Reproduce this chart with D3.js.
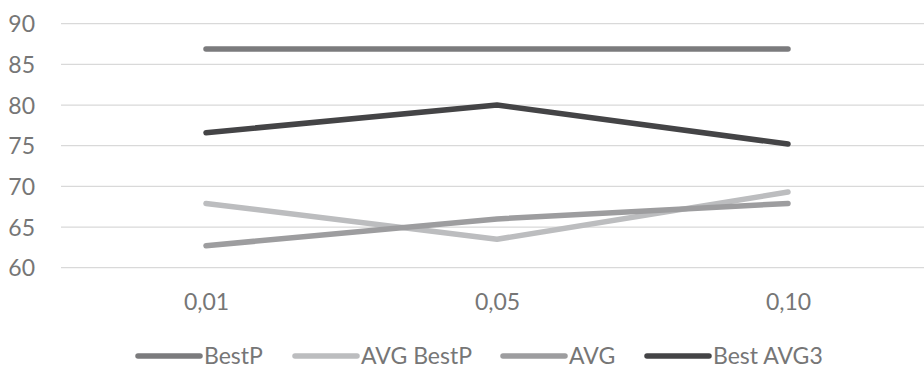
<!DOCTYPE html>
<html>
<head>
<meta charset="utf-8">
<script src="https://cdn.jsdelivr.net/npm/d3@7"></script>
<style>
  html, body { margin: 0; padding: 0; background: #fff; }
  svg { display: block; font-family: Lato, "Open Sans", sans-serif; }
</style>
</head>
<body>
<svg id="chart" width="924" height="370"></svg>
<script>
// Categories along the x axis
const categories = ["0,01", "0,05", "0,10"];

// Series values
const bestP     = [86.9, 86.9, 86.9];
const avgBestP  = [67.9, 63.5, 69.3];
const avg       = [62.7, 66.0, 67.9];
const bestAvg3  = [76.6, 80.0, 75.2];

const seriesNames = ["BestP", "AVG BestP", "AVG", "Best AVG3"];
const yTicks = [60, 65, 70, 75, 80, 85, 90];

const series = [
  { name: seriesNames[0], values: bestP,    color: "#7b7b7d" },
  { name: seriesNames[1], values: avgBestP, color: "#bcbdbf" },
  { name: seriesNames[2], values: avg,      color: "#9d9d9f" },
  { name: seriesNames[3], values: bestAvg3, color: "#444446" }
];

const svg = d3.select("#chart");
const textColor = "#767676";
const fontSize = "23px";

const x = d3.scalePoint()
  .domain(categories)
  .range([206, 788]);

const y = d3.scaleLinear()
  .domain([60, 90])
  .range([267.7, 23.7]);

// Horizontal gridlines
svg.append("g")
  .selectAll("line")
  .data(yTicks)
  .join("line")
  .attr("x1", 61)
  .attr("x2", 924)
  .attr("y1", d => y(d))
  .attr("y2", d => y(d))
  .attr("stroke", "#d9d9d9")
  .attr("stroke-width", 1.3);

// Y axis labels
const yAxis = d3.axisLeft(y).tickValues(yTicks).tickSize(0).tickPadding(0);
svg.append("g")
  .attr("transform", "translate(35,0)")
  .call(yAxis)
  .call(g => g.select(".domain").remove())
  .call(g => g.selectAll("text")
    .attr("fill", textColor)
    .attr("dy", "0.35em")
    .style("font-size", fontSize)
    .style("font-family", "Lato, 'Open Sans', sans-serif"));

// X axis labels
const xAxis = d3.axisBottom(x).tickSize(0).tickPadding(0);
svg.append("g")
  .attr("transform", "translate(0,310)")
  .call(xAxis)
  .call(g => g.select(".domain").remove())
  .call(g => g.selectAll("text")
    .attr("fill", textColor)
    .attr("y", 0)
    .attr("dy", 0)
    .style("font-size", fontSize)
    .style("font-family", "Lato, 'Open Sans', sans-serif"));

// Lines
const line = d3.line()
  .x((d, i) => x(categories[i]))
  .y(d => y(d));

svg.append("g")
  .selectAll("path")
  .data(series)
  .join("path")
  .attr("d", d => line(d.values))
  .attr("fill", "none")
  .attr("stroke", d => d.color)
  .attr("stroke-width", 5.5)
  .attr("stroke-linecap", "round")
  .attr("stroke-linejoin", "round");

// Legend
const legendX = [138, 295, 503, 647];
const legend = svg.append("g")
  .selectAll("g")
  .data(series)
  .join("g")
  .attr("transform", (d, i) => `translate(${legendX[i]},356)`);

legend.append("line")
  .attr("x1", 0)
  .attr("x2", 62)
  .attr("y1", 0)
  .attr("y2", 0)
  .attr("stroke", d => d.color)
  .attr("stroke-width", 5.5)
  .attr("stroke-linecap", "round");

legend.append("text")
  .attr("x", 66)
  .attr("y", 0)
  .attr("dy", "0.36em")
  .attr("fill", textColor)
  .style("font-size", fontSize)
  .text(d => d.name);
</script>
</body>
</html>
